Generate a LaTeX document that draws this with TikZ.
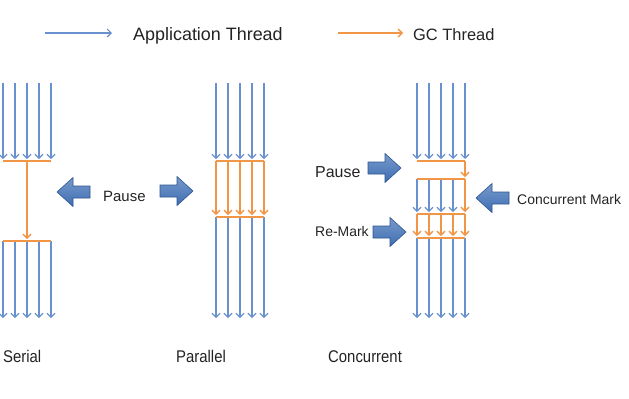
\documentclass[tikz,border=0pt]{standalone}
\usepackage{fontspec}
\setmainfont{Liberation Sans}
\usetikzlibrary{arrows.meta}
\definecolor{appblue}{RGB}{105,145,205}
\definecolor{gcorange}{RGB}{240,150,70}
\definecolor{arrowblue}{RGB}{62,110,180}
\definecolor{arrowedge}{RGB}{45,85,145}
\definecolor{textgray}{RGB}{35,35,35}
% fat block arrow: tail x, centre y, direction (1 right, -1 left)
\newcommand\fatarrow[3]{%
  \begin{scope}[shift={(#1,#2)},xscale=#3]
    \draw[blockarrow] (0,-6) -- (17,-6) -- (17,-14.5) -- (33,0) -- (17,14.5) -- (17,6) -- (0,6) -- cycle;
  \end{scope}}
\begin{document}
\begin{tikzpicture}[x=1bp,y=-1bp,
  app/.style={draw=appblue,line width=1.1bp,-{Straight Barb[length=4bp,width=8bp]}},
  gc/.style={draw=gcorange,line width=1.3bp,-{Straight Barb[length=4bp,width=8bp]}},
  bar/.style={draw=gcorange,line width=1.3bp},
  blockarrow/.style={draw=arrowedge,line width=0.6bp,top color=arrowblue!70!white,bottom color=arrowblue},
  lbl/.style={anchor=base west,inner sep=0,text=textgray,font=\fontsize{#1}{#1}\selectfont}]
  \useasboundingbox (0,0) rectangle (629,398);
  % legend
  \coordinate (la1) at (45,33);  \coordinate (la2) at (112,33);
  \coordinate (lg1) at (338,33); \coordinate (lg2) at (403,33);
  \draw[app] (la1) -- (la2);
  \draw[gc] (lg1) -- (lg2);
  \node[lbl=18] (appname) at (133,40) {Application Thread};
  \node[lbl=16.5] (gcname) at (413,40) {GC Thread};
  % serial
  \foreach \i/\x in {1/3,2/15,3/27,4/39,5/51} {
    \coordinate (st\i) at (\x,83);  \coordinate (sp\i) at (\x,159);
    \coordinate (sg\i) at (\x,241); \coordinate (se\i) at (\x,318);
    \draw[app] (st\i) -- (sp\i);
    \draw[app] (sg\i) -- (se\i);
  }
  \coordinate (sj1) at (3,161);  \coordinate (sj2) at (51,161);
  \coordinate (sk1) at (27,161); \coordinate (sk2) at (27,239);
  \draw[bar] (sj1) -- (sj2);
  \draw[gc] (sk1) -- (sk2);
  \draw[bar] (sg1) -- (sg5);
  % parallel
  \foreach \i/\x in {1/216,2/228,3/240,4/252,5/264} {
    \coordinate (pt\i) at (\x,83);  \coordinate (pp\i) at (\x,159);
    \coordinate (pj\i) at (\x,161); \coordinate (pk\i) at (\x,215);
    \coordinate (pg\i) at (\x,217); \coordinate (pe\i) at (\x,318);
    \draw[app] (pt\i) -- (pp\i);
    \draw[gc] (pj\i) -- (pk\i);
    \draw[app] (pg\i) -- (pe\i);
  }
  \draw[bar] (pj1) -- (pj5);
  \draw[bar] (pg1) -- (pg5);
  % concurrent
  \foreach \i/\x in {1/417,2/429,3/441,4/453,5/465} {
    \coordinate (ct\i) at (\x,83);  \coordinate (cp\i) at (\x,159);
    \coordinate (cj\i) at (\x,161); \coordinate (cm\i) at (\x,179);
    \coordinate (cq\i) at (\x,212); \coordinate (cr\i) at (\x,214);
    \coordinate (cs\i) at (\x,236); \coordinate (cg\i) at (\x,238);
    \coordinate (ce\i) at (\x,318);
    \draw[app] (ct\i) -- (cp\i);
    \draw[gc] (cr\i) -- (cs\i);
    \draw[app] (cg\i) -- (ce\i);
  }
  \foreach \i in {1,...,4} \draw[app] (cm\i) -- (cq\i);
  \coordinate (ck) at (465,177);
  \draw[gc] (cj5) -- (ck);
  \draw[gc] (cm5) -- (cq5);
  \draw[bar] (cj1) -- (cj5);
  \draw[bar] (cm1) -- (cm5);
  \draw[bar] (cr1) -- (cr5);
  \draw[bar] (cg1) -- (cg5);
  % pause / mark arrows
  \fatarrow{90}{192}{-1}
  \fatarrow{160}{191}{1}
  \fatarrow{368}{168}{1}
  \fatarrow{373}{232}{1}
  \fatarrow{509}{198}{-1}
  \node[lbl=15] (pause1) at (103,201) {Pause};
  \node[lbl=16] (pause2) at (315,177) {Pause};
  \node[lbl=14] (remark) at (315,236) {Re-Mark};
  \node[lbl=14] (cmark) at (517,204) {Concurrent Mark};
  % titles
  \node[lbl=17,xscale=0.88] (serial) at (3,362) {Serial};
  \node[lbl=17,xscale=0.88] (parallel) at (176,362) {Parallel};
  \node[lbl=17,xscale=0.88] (concurrent) at (328,362) {Concurrent};
\end{tikzpicture}
\end{document}
